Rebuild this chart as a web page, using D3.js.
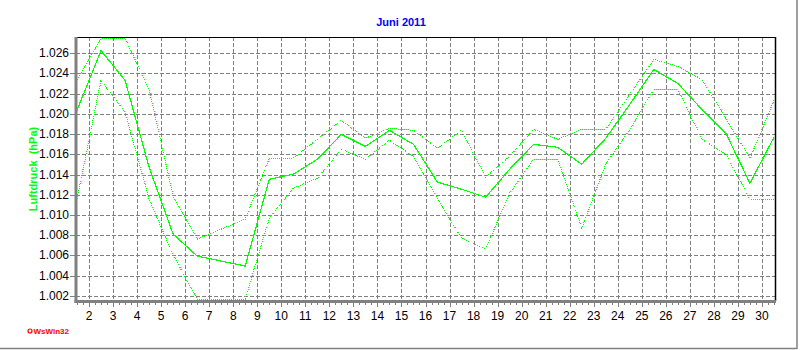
<!DOCTYPE html>
<html>
<head>
<meta charset="utf-8">
<script src="https://cdn.jsdelivr.net/npm/d3@7"></script>
<style>
  body { margin: 0; background: #fff; }
  svg { display: block; font-family: "Liberation Sans", Arial, sans-serif; }
</style>
</head>
<body>
<div id="chart"></div>
<script>
// Juni 2011 - Luftdruck, Tagesmittel / Max / Min
var days = d3.range(1, 31);

var mittel = [1.0204, 1.0264, 1.0234, 1.0147, 1.0080, 1.0058, 1.0053, 1.0048, 1.0135, 1.0140,
              1.0155, 1.0180, 1.0168, 1.0184, 1.0170, 1.0132, 1.0125, 1.0117, 1.0145, 1.0170,
              1.0167, 1.0150, 1.0176, 1.0210, 1.0245, 1.0231, 1.0205, 1.0181, 1.0131, 1.0177];

var maximum = [1.0235, 1.0280, 1.0280, 1.0225, 1.0118, 1.0075, 1.0085, 1.0095, 1.0156, 1.0156,
               1.0175, 1.0194, 1.0176, 1.0186, 1.0184, 1.0166, 1.0184, 1.0137, 1.0158, 1.0185,
               1.0175, 1.0185, 1.0185, 1.0220, 1.0255, 1.0248, 1.0235, 1.0196, 1.0156, 1.0214];

var minimum = [1.0115, 1.0234, 1.0202, 1.0115, 1.0059, 1.0010, 1.0010, 1.0010, 1.0096, 1.0126,
               1.0136, 1.0165, 1.0155, 1.0174, 1.0158, 1.0115, 1.0076, 1.0065, 1.0121, 1.0155,
               1.0155, 1.0086, 1.0150, 1.0185, 1.0225, 1.0225, 1.0175, 1.0160, 1.0115, 1.0115];

var yTicks = [1.002, 1.004, 1.006, 1.008, 1.010, 1.012, 1.014, 1.016, 1.018, 1.020, 1.022, 1.024, 1.026];
var xTicks = d3.range(2, 31);

var width = 800, height = 350;
var plotL = 76, plotR = 775, plotT = 37, plotB = 301;
var green = '#00ff00';

var svg = d3.select('#chart').append('svg')
    .attr('width', width)
    .attr('height', height);

var x = d3.scaleLinear().domain([1.5, 30.5]).range([plotL + 1, plotR - 1]);
var y = d3.scaleLinear().domain([1.0015, 1.0276]).range([plotB, plotT]);
// values off the scale are drawn at the plot edge (just inside the axes)
var yc = d3.scaleLinear().domain(y.domain()).range([plotB - 2, plotT + 1.5]).clamp(true);

// frame shadow
svg.append('line').attr('x1', 0).attr('x2', 797).attr('y1', 348.5).attr('y2', 348.5)
    .attr('stroke', '#808080').attr('stroke-width', 1.5);
svg.append('line').attr('x1', 797).attr('x2', 797).attr('y1', 0).attr('y2', 349)
    .attr('stroke', '#808080').attr('stroke-width', 1.5);

// grid
svg.selectAll('.hgrid')
  .data(yTicks)
  .enter()
  .append('line')
    .attr('class', 'hgrid')
    .attr('x1', plotL).attr('x2', plotR)
    .attr('y1', function(d) { return Math.round(y(d)) + 0.5; })
    .attr('y2', function(d) { return Math.round(y(d)) + 0.5; })
    .attr('stroke', '#808080')
    .attr('stroke-dasharray', '4,2');

svg.selectAll('.vgrid')
  .data(xTicks)
  .enter()
  .append('line')
    .attr('class', 'vgrid')
    .attr('y1', plotT).attr('y2', plotB)
    .attr('x1', function(d) { return Math.round(x(d)) + 0.5; })
    .attr('x2', function(d) { return Math.round(x(d)) + 0.5; })
    .attr('stroke', '#808080')
    .attr('stroke-dasharray', '4,2');

// top / right border
svg.append('line').attr('x1', plotL).attr('x2', plotR + 1).attr('y1', plotT + 0.5).attr('y2', plotT + 0.5)
    .attr('stroke', '#000').attr('stroke-width', 1);
svg.append('line').attr('x1', plotR + 0.5).attr('x2', plotR + 0.5).attr('y1', plotT).attr('y2', plotB)
    .attr('stroke', '#000').attr('stroke-width', 1.5);

// minor + major x ticks
var minor = d3.range(1.5, 30.5001, 0.25);
svg.selectAll('.xminor')
  .data(minor)
  .enter()
  .append('line')
    .attr('x1', function(d) { return Math.round(x(d)) + 0.5; })
    .attr('x2', function(d) { return Math.round(x(d)) + 0.5; })
    .attr('y1', plotB)
    .attr('y2', function(d) { return Number.isInteger(d) ? plotB + 6 : plotB + 4; })
    .attr('stroke', '#808080');

svg.selectAll('.ytick')
  .data(yTicks)
  .enter()
  .append('line')
    .attr('x1', plotL - 6).attr('x2', plotL)
    .attr('y1', function(d) { return Math.round(y(d)) + 0.5; })
    .attr('y2', function(d) { return Math.round(y(d)) + 0.5; })
    .attr('stroke', '#808080');

// axes lines (thick grey)
svg.append('line').attr('x1', plotL).attr('x2', plotL).attr('y1', plotT).attr('y2', plotB + 2)
    .attr('stroke', '#808080').attr('stroke-width', 3);
svg.append('line').attr('x1', plotL - 1.5).attr('x2', plotR + 1).attr('y1', plotB + 0.5).attr('y2', plotB + 0.5)
    .attr('stroke', '#808080').attr('stroke-width', 3);

// tick labels
svg.selectAll('.xlab')
  .data(xTicks)
  .enter()
  .append('text')
    .attr('x', function(d) { return x(d); })
    .attr('y', 320)
    .attr('text-anchor', 'middle')
    .attr('font-size', 12)
    .attr('fill', '#000')
    .text(function(d) { return d; });

svg.selectAll('.ylab')
  .data(yTicks)
  .enter()
  .append('text')
    .attr('x', 69)
    .attr('y', function(d) { return y(d) + 4; })
    .attr('text-anchor', 'end')
    .attr('font-size', 12)
    .attr('fill', '#000')
    .text(function(d) { return d3.format('.3f')(d); });

// series
var line = d3.line()
    .x(function(d, i) { return x(days[i] + 0.5); })
    .y(function(d) { return yc(d); });

svg.append('path').datum(maximum)
    .attr('d', line).attr('fill', 'none')
    .attr('stroke', green).attr('stroke-width', 1).attr('stroke-dasharray', '1,1')
    .attr('shape-rendering', 'crispEdges');
svg.append('path').datum(minimum)
    .attr('d', line).attr('fill', 'none')
    .attr('stroke', green).attr('stroke-width', 1).attr('stroke-dasharray', '1,1')
    .attr('shape-rendering', 'crispEdges');
svg.append('path').datum(mittel)
    .attr('d', line).attr('fill', 'none')
    .attr('stroke', green).attr('stroke-width', 1.2)
    .attr('shape-rendering', 'crispEdges');

// titles
svg.append('text')
    .attr('x', 401).attr('y', 26)
    .attr('text-anchor', 'middle')
    .attr('font-size', 11).attr('font-weight', 'bold')
    .attr('fill', '#0000ff')
    .text('Juni 2011');

svg.append('text')
    .attr('transform', 'translate(37,169) rotate(-90)')
    .attr('text-anchor', 'middle')
    .attr('font-size', 11).attr('font-weight', 'bold')
    .attr('fill', green)
    .style('white-space', 'pre')
    .text('Luftdruck  (hPa)');

// WsWin32 mark
svg.append('circle').attr('cx', 30).attr('cy', 331).attr('r', 2)
    .attr('fill', 'none').attr('stroke', '#ff0000').attr('stroke-width', 1.2);
svg.append('text')
    .attr('x', 33.5).attr('y', 334)
    .attr('font-size', 8).attr('font-weight', 'bold')
    .attr('fill', '#ff0000')
    .text('WsWin32');
</script>
</body>
</html>
